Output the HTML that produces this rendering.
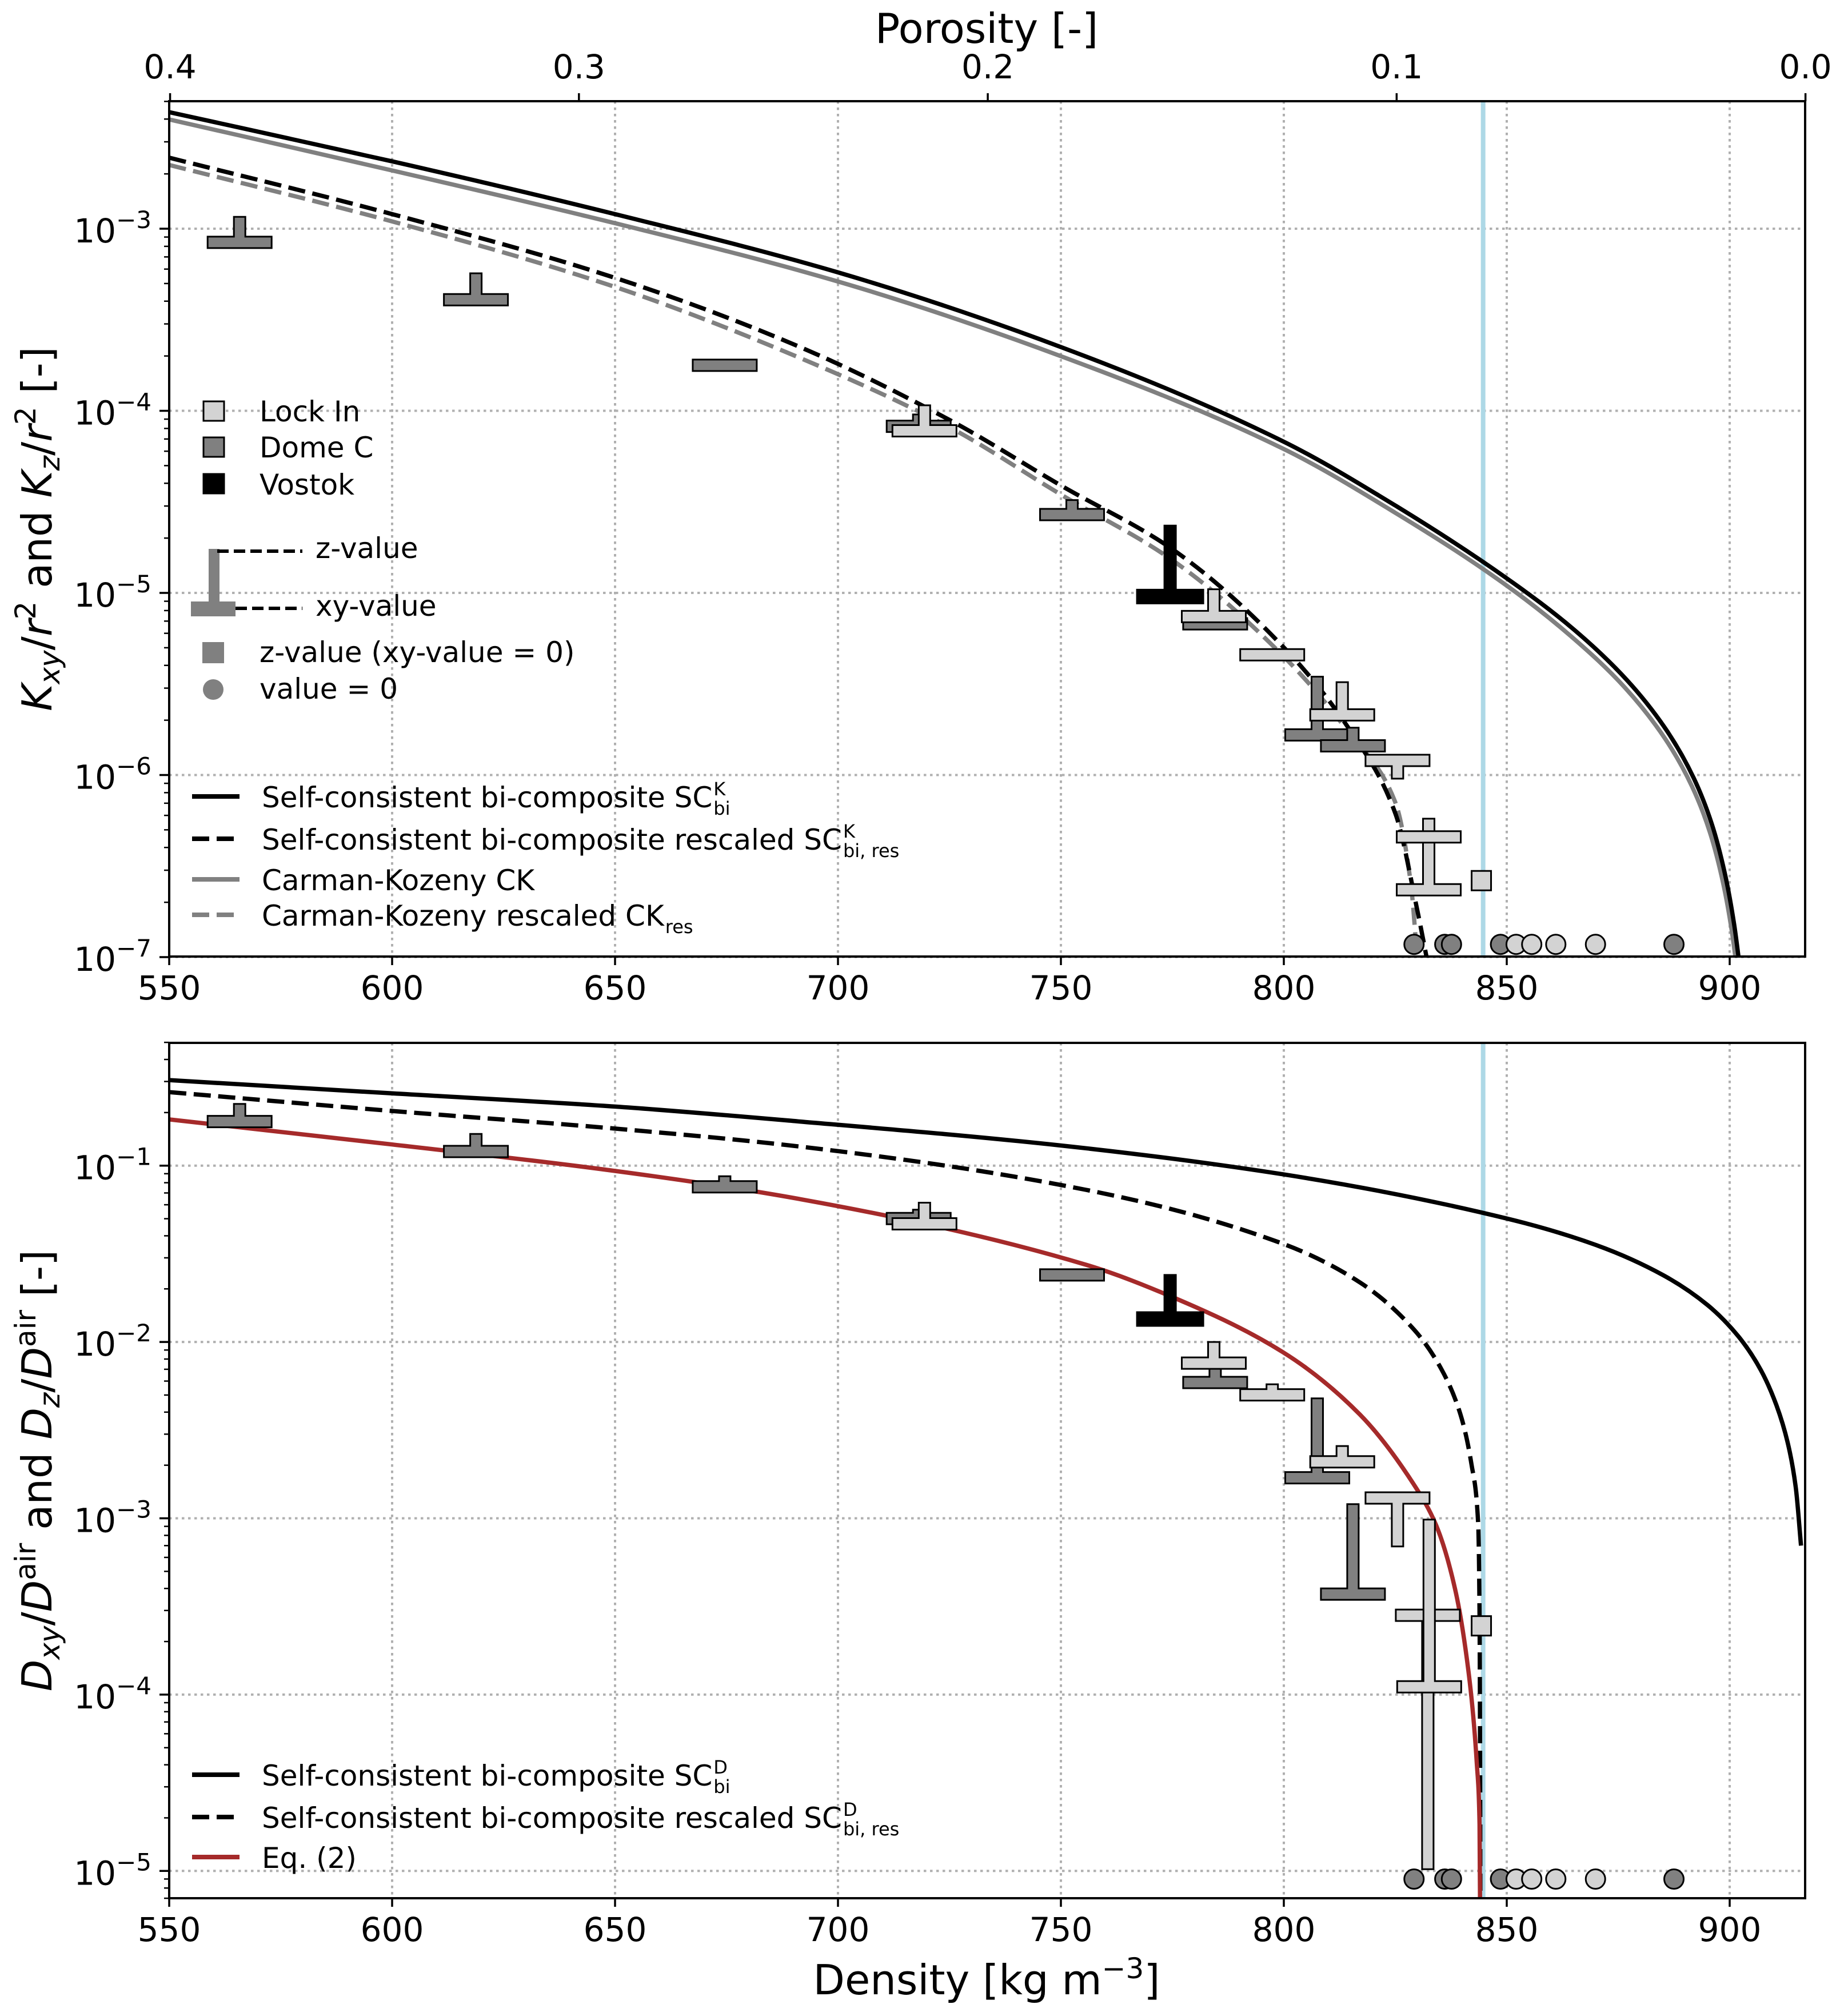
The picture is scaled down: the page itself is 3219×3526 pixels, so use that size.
<!DOCTYPE html>
<html><head><meta charset="utf-8"><style>
html,body{margin:0;padding:0;background:#fff}
svg{display:block;font-family:"DejaVu Sans","Liberation Sans",sans-serif}
</style></head><body>
<svg id="fig" xmlns="http://www.w3.org/2000/svg" width="3219" height="3526" viewBox="0 0 3219 3526">
<defs>
<clipPath id="clipTop"><rect x="296" y="177" width="2862" height="1496"/></clipPath>
<clipPath id="clipBot"><rect x="296" y="1824" width="2862" height="1496"/></clipPath>
</defs>
<rect x="0" y="0" width="3219" height="3526" fill="#fff"/>
<g id="gTopGrid"></g>
<g id="gBotGrid"></g>
<g id="gTopData" clip-path="url(#clipTop)"></g>
<g id="gBotData" clip-path="url(#clipBot)"></g>
<g id="gAxes"></g>
<g id="gLegend"></g>

<text x="1726" y="75" font-size="72" text-anchor="middle">Porosity [-]</text>
<text x="1726" y="3488" font-size="72" text-anchor="middle">Density [kg m<tspan font-size="50" dy="-28">−3</tspan><tspan dy="28">]</tspan></text>
<text transform="translate(90,925) rotate(-90)" font-size="72" text-anchor="middle"><tspan font-style="italic">K</tspan><tspan font-size="50" dy="14" font-style="italic">xy</tspan><tspan dy="-14">/</tspan><tspan font-style="italic">r</tspan><tspan font-size="50" dy="-28">2</tspan><tspan dy="28"> and </tspan><tspan font-style="italic">K</tspan><tspan font-size="50" dy="14" font-style="italic">z</tspan><tspan dy="-14">/</tspan><tspan font-style="italic">r</tspan><tspan font-size="50" dy="-28">2</tspan><tspan dy="28"> [-]</tspan></text>
<text transform="translate(90,2572) rotate(-90)" font-size="72" text-anchor="middle"><tspan font-style="italic">D</tspan><tspan font-size="50" dy="14" font-style="italic">xy</tspan><tspan dy="-14">/</tspan><tspan font-style="italic">D</tspan><tspan font-size="50" dy="-28">air</tspan><tspan dy="28"> and </tspan><tspan font-style="italic">D</tspan><tspan font-size="50" dy="14" font-style="italic">z</tspan><tspan dy="-14">/</tspan><tspan font-style="italic">D</tspan><tspan font-size="50" dy="-28">air</tspan><tspan dy="28"> [-]</tspan></text>
</svg>
<script>
// ---------- data ----------
const xTicks = [550,600,650,700,750,800,850,900];
const porTicks = [0.4,0.3,0.2,0.1,0.0];
const porLabels = ["0.4","0.3","0.2","0.1","0.0"];
const topDecades = [-3,-4,-5,-6,-7];
const botDecades = [-1,-2,-3,-4,-5];
const rhoIce = 917;
const vlineDensity = 844.7;

// top panel curves (log10 values)
const scKDens = [550,600,650,700,750,800,825,850,865,877,886,892,896,899,901,902.5];
const scKVals = [-2.36,-2.63,-2.92,-3.24,-3.65,-4.17,-4.52,-4.92,-5.2,-5.48,-5.76,-6.02,-6.27,-6.55,-6.82,-7.1];
const ckDens = [550,600,650,700,750,800,825,850,864.5,876.5,885.5,891.5,895.5,898.5,900.5,902];
const ckVals = [-2.40,-2.68,-2.97,-3.29,-3.70,-4.21,-4.56,-4.96,-5.24,-5.52,-5.80,-6.06,-6.31,-6.59,-6.86,-7.14];
const scKresDens = [550,600,650,691.5,725,750,775,800,815,825,830,832.8];
const scKresVals = [-2.61,-2.92,-3.27,-3.65,-4.05,-4.41,-4.76,-5.30,-5.76,-6.21,-6.75,-7.1];
const ckResDens = [550,600,650,691.5,725,750,775,800,815,825,828.5,830.2];
const ckResVals = [-2.65,-2.96,-3.32,-3.71,-4.09,-4.46,-4.82,-5.35,-5.78,-6.15,-6.6,-7.1];

// bottom panel curves
const scDDens = [550,600,650,691.5,750,800,850,870,885,895,902,907,910.5,913,914.8,916.0];
const scDVals = [-0.515,-0.59,-0.665,-0.75,-0.886,-1.05,-1.30,-1.45,-1.62,-1.79,-1.97,-2.16,-2.36,-2.57,-2.82,-3.155];
const scDresDens = [550,600,650,691.5,755.6,799.8,817,829.2,835.4,839.6,842.1,843.6,843.9,844.05,844.1];
const scDresVals = [-0.583,-0.69,-0.79,-0.892,-1.137,-1.443,-1.661,-1.93,-2.157,-2.41,-2.696,-3.036,-3.545,-4.68,-5.4];
const eq2Dens = [550,600,650,691.5,755.6,775.9,799.8,817,829.2,834.1,838.4,841.5,843.3,843.9,844.05];
const eq2Vals = [-0.738,-0.88,-1.03,-1.19,-1.562,-1.755,-2.058,-2.41,-2.81,-3.036,-3.40,-3.886,-4.395,-4.735,-5.4];

// T markers (site: L=Lock In, D=Dome C, V=Vostok)
const kSite = ["D","D","D","D","L","D","V","D","L","L","D","L","D","L","L","L"];
const kDens = [565.8,618.8,674.6,718.1,719.4,752.5,774.5,784.6,784.3,797.4,807.5,813.1,815.5,825.5,832.5,832.5];
const kXY   = [-3.075,-3.39,-3.75,-4.085,-4.11,-4.57,-5.02,-5.17,-5.13,-5.34,-5.78,-5.67,-5.84,-5.92,-6.63,-6.34];
const kZ    = [-2.935,-3.245,-3.72,-4.02,-3.97,-4.49,-4.63,-5.17,-4.98,-5.34,-5.46,-5.49,-5.74,-6.02,-6.24,-6.34];
const dSite = ["D","D","D","D","L","D","V","D","L","L","D","L","D","L","L","L"];
const dDens = [565.8,618.8,674.6,718.1,719.4,752.5,774.5,784.6,784.3,797.4,807.5,813.1,815.5,825.5,832.3,832.6];
const dXY   = [-0.75,-0.92,-1.12,-1.30,-1.33,-1.62,-1.87,-2.23,-2.12,-2.30,-2.77,-2.68,-3.43,-2.885,-3.55,-3.956];
const dZ    = [-0.65,-0.82,-1.06,-1.25,-1.21,-1.62,-1.62,-2.15,-2.00,-2.24,-2.32,-2.59,-2.92,-3.16,-4.99,-3.007];
// z-only squares
const sqDens = [844.3];
const sqKVal = [-6.58];
const sqDVal = [-3.61];
// zero-value circles
const zeroSite = ["D","D","D","D","L","L","L","L","D"];
const zeroDens = [829.2,836.1,837.6,848.6,852.1,855.6,861.0,869.9,887.5];
const zeroKLevel = -6.93;
const zeroDLevel = -5.046;

// ---------- scales ----------
const X = d => 296 + (d - 550) * 7.8;
const YT = l => 400 + (-3 - l) * 318.5;
const YB = l => 2038.7 + (-1 - l) * 308.4;
const NS = "http://www.w3.org/2000/svg";
const fill = {L:"#d3d3d3", D:"#808080", V:"#000000"};

function mk(tag, attrs, parent){
  const e = document.createElementNS(NS, tag);
  for (const k in attrs) e.setAttribute(k, attrs[k]);
  parent.appendChild(e);
  return e;
}
function monoPath(xs, ys){
  const n = xs.length, dx=[], m=[], t=[];
  for (let i=0;i<n-1;i++){ dx[i]=xs[i+1]-xs[i]; m[i]=(ys[i+1]-ys[i])/dx[i]; }
  t[0]=m[0]; t[n-1]=m[n-2];
  for (let i=1;i<n-1;i++){
    if (m[i-1]*m[i] <= 0) t[i]=0;
    else { const w1=2*dx[i]+dx[i-1], w2=dx[i]+2*dx[i-1]; t[i]=(w1+w2)/(w1/m[i-1]+w2/m[i]); }
  }
  let d = "M"+xs[0].toFixed(1)+","+ys[0].toFixed(1);
  for (let i=0;i<n-1;i++){
    const h=dx[i];
    d += " C"+(xs[i]+h/3).toFixed(1)+","+(ys[i]+t[i]*h/3).toFixed(1)+" "+(xs[i+1]-h/3).toFixed(1)+","+(ys[i+1]-t[i+1]*h/3).toFixed(1)+" "+xs[i+1].toFixed(1)+","+ys[i+1].toFixed(1);
  }
  return d;
}
function curve(g, dens, vals, Y, color, dashed, name){
  const p = mk("path", {d: monoPath(dens.map(X), vals.map(Y)), fill:"none", stroke:color, "stroke-width":7.5}, g);
  if (dashed) p.setAttribute("stroke-dasharray","30 13");
  
  
}
function tMarker(g, site, d, xy, z, Y, name){
  const cx = X(d), by = Y(xy), zy = Y(z);
  const hw = site==="V" ? 58 : 56, hh = site==="V" ? 12 : 10, sw = 10;
  let pts;
  if (zy < by - hh - 1) {
    pts = [[cx-hw,by+hh],[cx+hw,by+hh],[cx+hw,by-hh],[cx+sw,by-hh],[cx+sw,zy],[cx-sw,zy],[cx-sw,by-hh],[cx-hw,by-hh]];
  } else if (zy > by + hh + 1) {
    pts = [[cx-hw,by-hh],[cx+hw,by-hh],[cx+hw,by+hh],[cx+sw,by+hh],[cx+sw,zy],[cx-sw,zy],[cx-sw,by+hh],[cx-hw,by+hh]];
  } else {
    pts = [[cx-hw,by-hh],[cx+hw,by-hh],[cx+hw,by+hh],[cx-hw,by+hh]];
  }
  const poly = mk("polygon", {points: pts.map(p=>p[0].toFixed(1)+","+p[1].toFixed(1)).join(" "), fill: fill[site], stroke:"#000", "stroke-width":3}, g);
  
  
}

const svg = document.getElementById("fig");
const gTopGrid = document.getElementById("gTopGrid");
const gBotGrid = document.getElementById("gBotGrid");
const gTop = document.getElementById("gTopData");
const gBot = document.getElementById("gBotData");
const gAxes = document.getElementById("gAxes");
const gLeg = document.getElementById("gLegend");

const panels = [
  {grid:gTopGrid, top:177, bot:1673, Y:YT, dec:topDecades, lo:-7, hi:-2.3, pre:"top"},
  {grid:gBotGrid, top:1824, bot:3320, Y:YB, dec:botDecades, lo:-5.16, hi:-0.3, pre:"bottom"}
];
panels.forEach(P => {
  xTicks.forEach(v => {
    const l = mk("line", {x1:X(v), x2:X(v), y1:P.top, y2:P.bot, stroke:"#b0b0b0", "stroke-width":4, "stroke-dasharray":"4.5 6.5"}, P.grid);
    
    
    const tk = mk("line", {x1:X(v), x2:X(v), y1:P.bot, y2:P.bot+15, stroke:"#000", "stroke-width":3.5}, gAxes);
    
    
    const t = mk("text", {x:X(v), y:P.bot+75, "font-size":58, "text-anchor":"middle"}, gAxes);
    t.textContent = String(v);
    
    
  });
  P.dec.forEach(dv => {
    const y = P.Y(dv);
    const l = mk("line", {x1:296, x2:3158, y1:y, y2:y, stroke:"#b0b0b0", "stroke-width":4, "stroke-dasharray":"4.5 6.5"}, P.grid);
    
    
    const tk = mk("line", {x1:279, x2:296, y1:y, y2:y, stroke:"#000", "stroke-width":3.5}, gAxes);
    
    
    const t = mk("text", {x:203, y:y+24, "font-size":58, "text-anchor":"end"}, gAxes);
    t.textContent = "10";
    
    
    const s = mk("text", {x:265, y:y-1, "font-size":42, "text-anchor":"end"}, gAxes);
    s.textContent = "−" + Math.abs(dv);
    
    
  });
  for (let dd = Math.floor(P.lo); dd <= Math.ceil(P.hi); dd++) {
    for (let k = 2; k <= 9; k++) {
      const lv = dd + Math.log10(k);
      if (lv < P.lo || lv > P.hi) continue;
      const y = P.Y(lv);
      const mt = mk("line", {x1:287, x2:296, y1:y, y2:y, stroke:"#000", "stroke-width":2.5}, gAxes);
      
      
    }
  }
  const fr = mk("rect", {x:296, y:P.top, width:2862, height:P.bot-P.top, fill:"none", stroke:"#000", "stroke-width":4}, gAxes);
  
  
});
// porosity top axis
porTicks.forEach((p, i) => {
  const x = X(rhoIce * (1 - p));
  const tk = mk("line", {x1:x, x2:x, y1:163, y2:177, stroke:"#000", "stroke-width":3.5}, gAxes);
  
  
  const t = mk("text", {x:x, y:137, "font-size":58, "text-anchor":"middle"}, gAxes);
  t.textContent = porLabels[i];
  
  
});

// vertical reference lines
[[gTop,177,1673],[gBot,1824,3320]].forEach(a => {
  const v = mk("line", {x1:X(vlineDensity), x2:X(vlineDensity), y1:a[1], y2:a[2], stroke:"#add8e6", "stroke-width":8}, a[0]);
  
  
});

// top curves
curve(gTop, ckDens, ckVals, YT, "#808080", false, "carman-kozeny-line");
curve(gTop, scKDens, scKVals, YT, "#000", false, "sc-bi-k-line");
curve(gTop, ckResDens, ckResVals, YT, "#808080", true, "carman-kozeny-rescaled-line");
curve(gTop, scKresDens, scKresVals, YT, "#000", true, "sc-bi-res-k-line");
// bottom curves
curve(gBot, scDDens, scDVals, YB, "#000", false, "sc-bi-d-line");
curve(gBot, scDresDens, scDresVals, YB, "#000", true, "sc-bi-res-d-line");
curve(gBot, eq2Dens, eq2Vals, YB, "#a52a2a", false, "eq2-line");

// markers
kDens.forEach((d,i) => tMarker(gTop, kSite[i], d, kXY[i], kZ[i], YT, "k-marker-"+kSite[i]));
dDens.forEach((d,i) => tMarker(gBot, dSite[i], d, dXY[i], dZ[i], YB, "d-marker-"+dSite[i]));
sqDens.forEach((d,i) => {
  const a = mk("rect", {x:X(d)-17, y:YT(sqKVal[i])-17, width:34, height:34, fill:"#d3d3d3", stroke:"#000", "stroke-width":3}, gTop);
  
  
  const b = mk("rect", {x:X(d)-17, y:YB(sqDVal[i])-17, width:34, height:34, fill:"#d3d3d3", stroke:"#000", "stroke-width":3}, gBot);
  
  
});
zeroDens.forEach((d,i) => {
  const a = mk("circle", {cx:X(d), cy:YT(zeroKLevel), r:17, fill:fill[zeroSite[i]], stroke:"#000", "stroke-width":3}, gTop);
  
  
  const b = mk("circle", {cx:X(d), cy:YB(zeroDLevel), r:17, fill:fill[zeroSite[i]], stroke:"#000", "stroke-width":3}, gBot);
  
  
});

// ---------- legends ----------
function legText(x, y, str, name, size){
  const t = mk("text", {x:x, y:y, "font-size":size||50}, gLeg);
  t.textContent = str;
  
  
  return t;
}
[["#d3d3d3",702,"Lock In",737],["#808080",765,"Dome C",800],["#000",829,"Vostok",865]].forEach(r => {
  const s = mk("rect", {x:356, y:r[1], width:36, height:34, fill:r[0], stroke:"#000", "stroke-width":3}, gLeg);
  
  
  legText(454, r[3], r[2], 'legend-entry-site');
});
const ls = mk("rect", {x:365, y:960, width:19, height:95, fill:"#808080"}, gLeg);


const lb = mk("rect", {x:334, y:1052, width:78, height:26, fill:"#808080"}, gLeg);


const lz = mk("line", {x1:380, x2:529, y1:964, y2:964, stroke:"#000", "stroke-width":6, "stroke-dasharray":"20 9"}, gLeg);


const lxy = mk("line", {x1:412, x2:529, y1:1064, y2:1064, stroke:"#000", "stroke-width":6, "stroke-dasharray":"20 9"}, gLeg);


legText(552, 976, "z-value", 'legend-entry-z-value');
legText(552, 1077, "xy-value", 'legend-entry-xy-value');
const lsq = mk("rect", {x:354, y:1123, width:38, height:37, fill:"#808080"}, gLeg);


legText(454, 1158, "z-value (xy-value = 0)", 'legend-entry-z-only');
const lci = mk("ellipse", {cx:373, cy:1206, rx:18, ry:18, fill:"#808080"}, gLeg);


legText(454, 1222, "value = 0", 'legend-entry-zero');

function lineEntry(y, color, dashed, base, sup, sub, name){
  const l = mk("line", {x1:336, x2:419, y1:y, y2:y, stroke:color, "stroke-width":8}, gLeg);
  if (dashed) l.setAttribute("stroke-dasharray","30 13");
  
  
  const t = legText(458, y+19, base, name);
  let w = 0;
  try { w = t.getComputedTextLength(); } catch(e) { w = base.length*27; }
  if (sup) legText(458+w+2, y-2, sup, name+'-sup', 32);
  if (sub) legText(458+w+2, y+32, sub, name+'-sub', 32);
}
lineEntry(1393, "#000", false, "Self-consistent bi-composite SC", "K", "bi", "legend-entry-sc-bi-k");
lineEntry(1467, "#000", true, "Self-consistent bi-composite rescaled SC", "K", "bi, res", "legend-entry-sc-bi-res-k");
lineEntry(1538, "#808080", false, "Carman-Kozeny CK", null, null, "legend-entry-ck");
lineEntry(1600, "#808080", true, "Carman-Kozeny rescaled CK", null, "res", "legend-entry-ck-res");
lineEntry(3104, "#000", false, "Self-consistent bi-composite SC", "D", "bi", "legend-entry-sc-bi-d");
lineEntry(3178, "#000", true, "Self-consistent bi-composite rescaled SC", "D", "bi, res", "legend-entry-sc-bi-res-d");
lineEntry(3248, "#a52a2a", false, "Eq. (2)", null, null, "legend-entry-eq2");
</script>
</body></html>
